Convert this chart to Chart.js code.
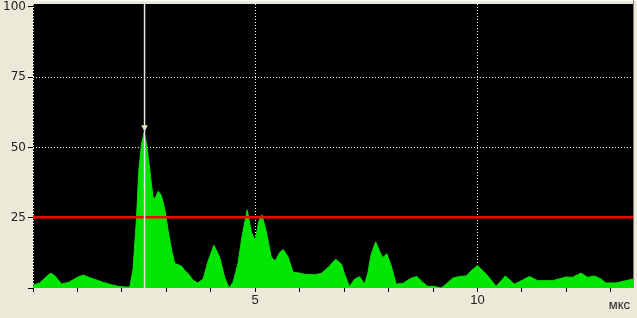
<!DOCTYPE html>
<html>
<head>
<meta charset="utf-8">
<script src="https://cdn.jsdelivr.net/npm/chart.js@4.4.0/dist/chart.umd.min.js"></script>
<style>
  html, body { margin: 0; padding: 0; background: #ece9d8; }
  #wrap { width: 637px; height: 318px; }
</style>
</head>
<body>
<div id="wrap"><canvas id="chart" width="637" height="318"></canvas></div>
<script>
// time axis, µs
const times = [
  0.00, 0.15, 0.30, 0.40, 0.50, 0.64, 0.80, 1.00, 1.13, 1.30, 1.58, 1.80, 1.96, 2.14,
  2.18, 2.25, 2.33, 2.38, 2.44, 2.50, 2.56, 2.63, 2.70, 2.74, 2.82, 2.89, 2.97, 3.04,
  3.12, 3.19, 3.34, 3.42, 3.49, 3.60, 3.71, 3.83, 3.94, 4.07, 4.20, 4.31, 4.41, 4.50,
  4.61, 4.70, 4.82, 4.91, 5.00, 5.08, 5.15, 5.25, 5.36, 5.45, 5.55, 5.63, 5.74, 5.85,
  5.96, 6.11, 6.34, 6.49, 6.64, 6.81, 6.94, 7.01, 7.12, 7.24, 7.35, 7.46, 7.53, 7.61,
  7.71, 7.80, 7.87, 7.96, 8.06, 8.17, 8.32, 8.51, 8.64, 8.77, 8.88, 9.03, 9.18, 9.30,
  9.44, 9.60, 9.75, 9.86, 10.00, 10.20, 10.42, 10.63, 10.83, 10.94, 11.17, 11.36, 11.69,
  11.99, 12.14, 12.33, 12.48, 12.63, 12.78, 12.89, 13.12, 13.34, 13.50
];
// amplitude, %
const amplitude = [
  1.0, 1.8, 4.0, 5.3, 4.2, 1.4, 2.0, 3.8, 4.6, 3.6, 2.0, 1.0, 0.5, 0.3,
  0.5, 6.5, 25, 41.6, 51, 55.3, 50.6, 41.6, 32.3, 31.7, 34.4, 32.8, 27.5, 20.4,
  13.4, 8.7, 7.8, 6.1, 5.2, 2.8, 1.8, 3.2, 9.6, 15.2, 11, 3.9, 0, 2,
  8.5, 18, 27.8, 20, 16.7, 23.7, 26, 20, 11, 9.6, 12.6, 13.7, 11, 5.6,
  5.4, 4.9, 4.7, 5.2, 7.3, 10.2, 8.5, 4.9, 0.5, 3.2, 4.0, 1.4, 5, 12,
  16.4, 13, 10.8, 12.2, 7.9, 1.4, 1.6, 3.5, 4.1, 2.0, 0.6, 0.6, 0, 1.4,
  3.5, 4.1, 4.3, 6.1, 8.0, 4.9, 0.6, 4.3, 1.4, 2.2, 4.1, 2.6, 2.6,
  3.9, 3.8, 5.3, 3.8, 4.3, 3.2, 1.8, 1.8, 2.6, 3.2
];

const xRange = [0, 13.5];
const yRange = [0, 101];
const xTicks = [0, 1, 2, 3, 4, 5, 6, 7, 8, 9, 10, 11, 12, 13];
const xLabels = [5, 10];
const xGrid = [0, 5, 10];
const yTicks = [0, 25, 50, 75, 100];
const yGrid = [50, 75];
const threshold = 25.2;
const cursorTime = 2.51;
const cursorMark = 57.2;
const unitLabel = 'мкс';

const plotBg = {
  id: 'plotBg',
  beforeDraw(chart) {
    const { ctx, chartArea: a } = chart;
    ctx.save();
    ctx.fillStyle = '#000';
    ctx.fillRect(a.left, a.top, a.right - a.left, a.bottom - a.top);
    ctx.restore();
  },
  afterDraw(chart) {
    const { ctx, chartArea: a } = chart;
    ctx.save();
    // frame
    ctx.strokeStyle = '#ffffff';
    ctx.lineWidth = 1;
    ctx.beginPath(); ctx.moveTo(a.left, 0.5); ctx.lineTo(637, 0.5); ctx.stroke();
    ctx.strokeStyle = '#808080';
    ctx.beginPath(); ctx.moveTo(a.right + 0.5, 0); ctx.lineTo(a.right + 0.5, a.bottom); ctx.stroke();
    // unit
    ctx.fillStyle = '#222';
    ctx.font = '13px "Liberation Sans"';
    ctx.textAlign = 'right';
    ctx.textBaseline = 'middle';
    ctx.fillText(unitLabel, a.right - 3, 305);
    ctx.restore();
  }
};

new Chart(document.getElementById('chart'), {
  type: 'line',
  data: {
    datasets: [
      {
        label: 'cursor',
        data: [{ x: cursorTime, y: yRange[0] }, { x: cursorTime, y: yRange[1] }],
        borderColor: '#e4e4e4',
        borderWidth: 1.5,
        pointRadius: 0,
        order: 0
      },
      {
        label: 'mark',
        data: [{ x: cursorTime, y: cursorMark }],
        showLine: false,
        pointStyle: 'triangle',
        rotation: 180,
        pointRadius: 4,
        backgroundColor: '#d6e4a4',
        borderColor: '#d6e4a4',
        borderWidth: 0,
        order: 0
      },
      {
        label: 'threshold',
        data: [{ x: xRange[0], y: threshold }, { x: xRange[1], y: threshold }],
        borderColor: '#ff0000',
        borderWidth: 2.5,
        pointStyle: 'rect',
        pointRadius: [2.5, 0],
        pointBackgroundColor: '#ff0000',
        pointBorderWidth: 0,
        order: 1
      },
      {
        label: 'signal',
        data: times.map((t, i) => ({ x: t, y: amplitude[i] })),
        borderColor: '#00e600',
        backgroundColor: '#00e600',
        borderWidth: 1,
        pointRadius: 0,
        tension: 0,
        fill: 'origin',
        order: 3
      }
    ]
  },
  options: {
    responsive: false,
    animation: false,
    layout: { padding: { top: 2, right: 3, left: 0, bottom: 0 } },
    plugins: { legend: { display: false }, tooltip: { enabled: false } },
    scales: {
      x: {
        type: 'linear',
        min: xRange[0], max: xRange[1],
        z: 1,
        afterBuildTicks: s => { s.ticks = xTicks.map(v => ({ value: v })); },
        afterFit: s => { s.height = 30; s.paddingLeft = 0; s.paddingRight = 0; },
        ticks: {
          autoSkip: false, maxRotation: 0, padding: 1,
          color: '#222',
          font: { family: 'Liberation Sans', size: 13 },
          callback: v => xLabels.includes(v) ? String(v) : ''
        },
        grid: {
          color: c => (c.tick && xGrid.includes(c.tick.value)) ? '#ffffff' : 'rgba(0,0,0,0)',
          tickColor: '#000',
          tickLength: 4,
          lineWidth: 1
        },
        border: { display: false, dash: [1, 2] }
      },
      y: {
        min: yRange[0], max: yRange[1],
        z: 1,
        afterBuildTicks: s => { s.ticks = yTicks.map(v => ({ value: v })); },
        afterFit: s => { s.width = 33; s.paddingTop = 0; s.paddingBottom = 0; },
        ticks: {
          padding: 2,
          color: '#222',
          font: { family: 'DejaVu Sans', size: 12 },
          callback: v => v === 0 ? '' : String(v)
        },
        grid: {
          color: c => (c.tick && yGrid.includes(c.tick.value)) ? '#ffffff' : 'rgba(0,0,0,0)',
          tickColor: '#000',
          tickLength: 5,
          lineWidth: 1
        },
        border: { display: false, dash: [1, 2] }
      }
    }
  },
  plugins: [plotBg]
});
</script>
</body>
</html>
